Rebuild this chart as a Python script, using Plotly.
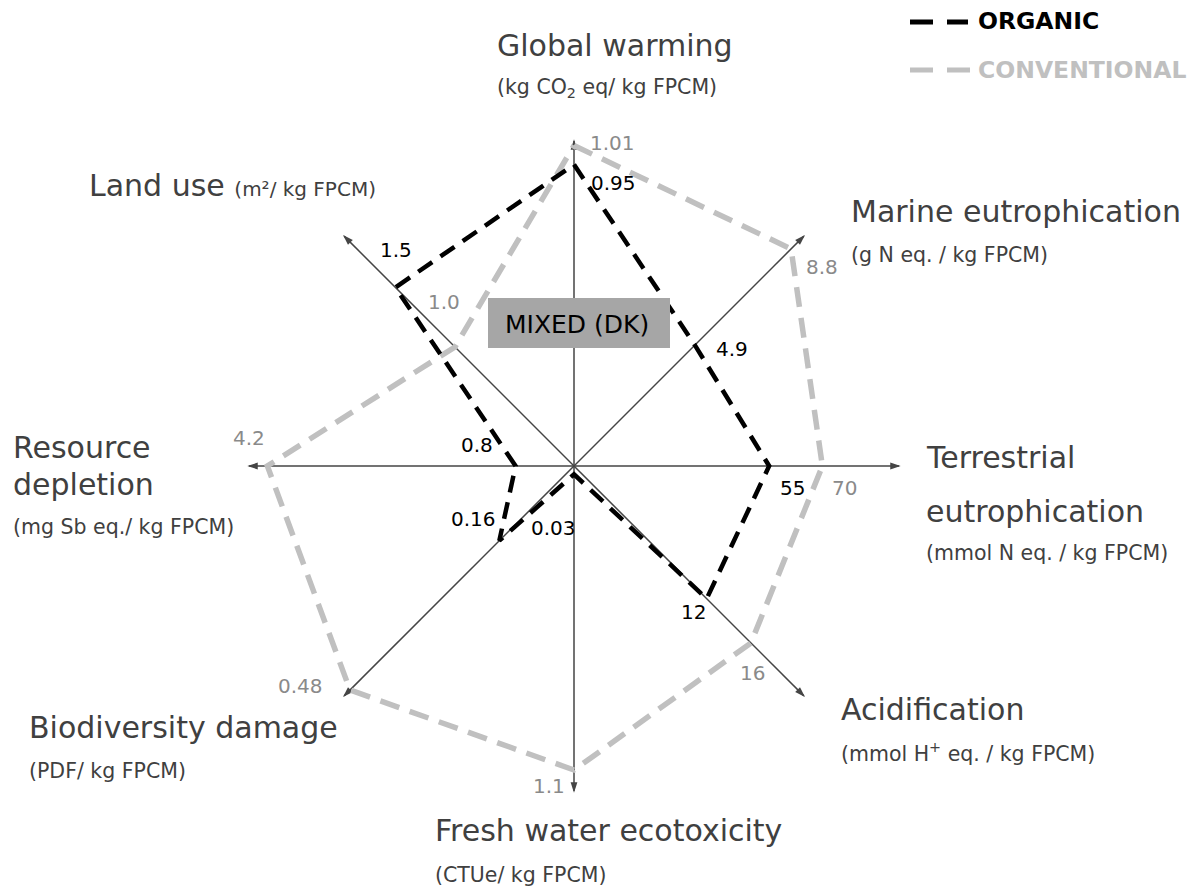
import math
import plotly.graph_objects as go

# ---------------- data ----------------
categories = ["Global warming", "Marine eutrophication", "Terrestrial eutrophication",
              "Acidification", "Fresh water ecotoxicity", "Biodiversity damage",
              "Resource depletion", "Land use"]
axis_angles = [90, 45, 0, -45, -90, -135, 180, 135]          # direction of each axis (deg)
axis_max = [1.04, 9.46, 93.0, 21.1, 1.194, 0.50, 4.52, 1.96]   # value at arrow tip
organic = [0.95, 4.9, 55, 12, 0.03, 0.16, 0.8, 1.5]
conventional = [1.01, 8.8, 70, 16, 1.1, 0.48, 4.2, 1.0]
organic_labels = ["0.95", "4.9", "55", "12", "0.03", "0.16", "0.8", "1.5"]
conventional_labels = ["1.01", "8.8", "70", "16", "1.1", "0.48", "4.2", "1.0"]

# label offsets (px) from their vertex
organic_label_shift = [(39, -18), (37, -4), (23, -22), (-13, -13), (-21, -54), (-26, 22), (-39, 21), (1, 37)]
conv_label_shift = [(38, 3), (31, -18), (22, -22), (2, -30), (-25, -16), (-49, 4), (-18, 28), (-11, 45)]

W, H = 1194, 887
CX, CY = 574, 466          # centre in pixels (from top-left)
ARROW_PX = 330             # pixel length of r = 1
RMAX = 1.15
RAD_PX = ARROW_PX * RMAX

FONT = "DejaVu Sans"
TXT = "#404040"
GRAY = "#c0c0c0"


def norm(vals):
    return [v / m for v, m in zip(vals, axis_max)]


def closed(lst):
    return list(lst) + [lst[0]]


fig = go.Figure()

# axes with arrow heads
for ang in axis_angles:
    fig.add_trace(go.Scatterpolar(r=[0, 0.985], theta=[ang, ang], mode="lines",
                                  line=dict(color="#454545", width=1.5),
                                  hoverinfo="skip", showlegend=False))
fig.add_trace(go.Scatterpolar(r=[0.99] * len(axis_angles), theta=axis_angles, mode="markers",
                              marker=dict(symbol="arrow", size=11, color="#454545",
                                          angle=[90 - a for a in axis_angles]),
                              hoverinfo="skip", showlegend=False))

# conventional polygon
fig.add_trace(go.Scatterpolar(r=closed(norm(conventional)), theta=closed(axis_angles),
                              mode="lines", line=dict(color=GRAY, width=5.5, dash="20px,11px"),
                              name="CONVENTIONAL", showlegend=False))
# organic polygon
fig.add_trace(go.Scatterpolar(r=closed(norm(organic)), theta=closed(axis_angles),
                              mode="lines", line=dict(color="black", width=4.5, dash="17px,10px"),
                              name="ORGANIC", showlegend=False))

annotations = []


def vertex_paper(ang, r):
    x = CX + r * ARROW_PX * math.cos(math.radians(ang))
    y = CY - r * ARROW_PX * math.sin(math.radians(ang))
    return x / W, 1 - y / H


VS = 20
for ang, r, lab, (dx, dy) in zip(axis_angles, norm(organic), organic_labels, organic_label_shift):
    px, py = vertex_paper(ang, r)
    annotations.append(dict(x=px, y=py, xref="paper", yref="paper", text=lab, showarrow=False,
                            xanchor="center", yanchor="middle",
                            xshift=dx, yshift=dy, font=dict(family=FONT, size=VS, color="black")))
for ang, r, lab, (dx, dy) in zip(axis_angles, norm(conventional), conventional_labels, conv_label_shift):
    px, py = vertex_paper(ang, r)
    annotations.append(dict(x=px, y=py, xref="paper", yref="paper", text=lab, showarrow=False,
                            xanchor="center", yanchor="middle",
                            xshift=dx, yshift=dy, font=dict(family=FONT, size=VS, color="#8a8a8a")))


def txt(text, x, y, size, color=TXT, bold=False, anchor="left"):
    annotations.append(dict(x=x / W, y=1 - y / H, xref="paper", yref="paper", text=text,
                            showarrow=False, xanchor=anchor, yanchor="middle",
                            font=dict(family=FONT, size=size, color=color,
                                      weight="bold" if bold else "normal")))


TS, SS = 30, 20.5
txt("Global warming", 495, 46, TS)
txt("(kg CO<sub>2</sub> eq/ kg FPCM)", 495, 88, SS)
txt("Land use <span style='font-size:20px'>(m²/ kg FPCM)</span>", 87, 185, TS)
txt("Marine eutrophication", 849, 212, TS)
txt("(g N eq. / kg FPCM)", 849, 255, SS)
txt("Terrestrial", 924, 457, TS)
txt("eutrophication", 924, 511, TS)
txt("(mmol N eq. / kg FPCM)", 924, 553, SS)
txt("Acidification", 839, 709, TS)
txt("(mmol H<sup>+</sup> eq. / kg FPCM)", 839, 752, SS)
txt("Fresh water ecotoxicity", 433, 830, TS)
txt("(CTUe/ kg FPCM)", 433, 875, SS)
txt("Biodiversity damage", 27, 727, TS)
txt("(PDF/ kg FPCM)", 27, 771, SS)
txt("Resource", 11, 447, TS)
txt("depletion", 11, 484, TS)
txt("(mg Sb eq./ kg FPCM)", 11, 527, SS)

# legend
txt("ORGANIC", 976, 21, 23.5, color="black", bold=True)
txt("CONVENTIONAL", 976, 70, 23.5, color=GRAY, bold=True)

# MIXED (DK) label
txt("MIXED (DK)", 577, 324, 25, color="black", anchor="center")

shapes = [
    dict(type="rect", xref="paper", yref="paper", x0=488 / W, x1=670 / W,
         y0=1 - 348 / H, y1=1 - 298 / H, fillcolor="#a6a6a6", line=dict(width=0), layer="above"),
    dict(type="line", xref="paper", yref="paper", x0=910 / W, x1=968 / W, y0=1 - 22 / H, y1=1 - 22 / H,
         line=dict(color="black", width=5, dash="23px,14px")),
    dict(type="line", xref="paper", yref="paper", x0=910 / W, x1=970 / W, y0=1 - 70 / H, y1=1 - 70 / H,
         line=dict(color=GRAY, width=5, dash="23px,14px")),
]

fig.update_layout(
    width=W, height=H, margin=dict(l=0, r=0, t=0, b=0),
    paper_bgcolor="white", plot_bgcolor="white",
    polar=dict(
        domain=dict(x=[(CX - RAD_PX) / W, (CX + RAD_PX) / W],
                    y=[(H - CY - RAD_PX) / H, (H - CY + RAD_PX) / H]),
        bgcolor="rgba(0,0,0,0)",
        radialaxis=dict(range=[0, RMAX], visible=False),
        angularaxis=dict(visible=False, direction="counterclockwise", rotation=0, thetaunit="degrees"),
    ),
    annotations=annotations,
    shapes=shapes,
    showlegend=False,
)

fig.write_html("out.html", config={"displayModeBar": False},
               post_script="document.body.style.margin='0';document.body.style.overflow='hidden';")
